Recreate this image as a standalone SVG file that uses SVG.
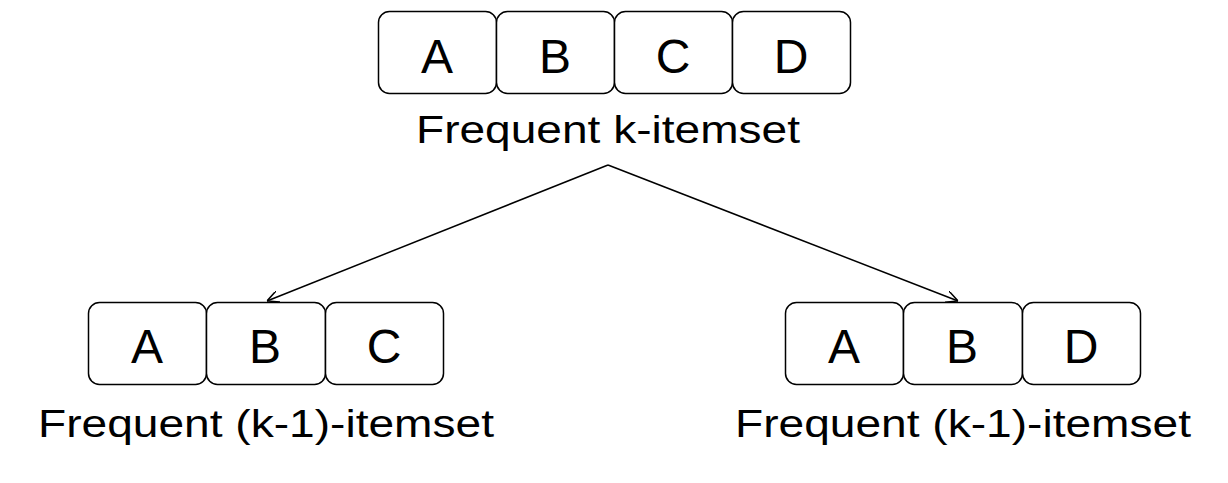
<svg xmlns="http://www.w3.org/2000/svg" width="1228" height="483" viewBox="0 0 1228 483">
<defs>
<style>
.box{fill:#fff;stroke:#000;stroke-width:1.5}
.lt{font-family:"Liberation Sans",Arial,sans-serif;font-size:48px;text-anchor:middle;fill:#000}
.lb{font-family:"Liberation Sans",Arial,sans-serif;font-size:38px;fill:#000}
.edge{stroke:#000;stroke-width:1.5;fill:none}
</style>
<marker id="arr" viewBox="0 0 12 12" refX="12" refY="6" markerWidth="12" markerHeight="12" markerUnits="userSpaceOnUse" orient="auto">
<path d="M0,0 L12,6 L0,12" fill="none" stroke="#000" stroke-width="1.5"/>
</marker>
</defs>
<rect width="1228" height="483" fill="#fff"/>
<g id="top">
<rect class="box" x="378.5" y="11.5" width="118" height="82" rx="11"/>
<rect class="box" x="496.5" y="11.5" width="118" height="82" rx="11"/>
<rect class="box" x="614.5" y="11.5" width="118" height="82" rx="11"/>
<rect class="box" x="732.5" y="11.5" width="118" height="82" rx="11"/>
<text class="lt" x="437" y="73">A</text>
<text class="lt" x="555" y="73">B</text>
<text class="lt" x="673" y="73">C</text>
<text class="lt" x="791" y="73">D</text>
<text class="lb" x="416" y="143" textLength="384" lengthAdjust="spacingAndGlyphs">Frequent k-itemset</text>
</g>
<g id="left">
<rect class="box" x="88.5" y="302.5" width="118" height="82" rx="11"/>
<rect class="box" x="206.5" y="302.5" width="119" height="82" rx="11"/>
<rect class="box" x="325.5" y="302.5" width="118" height="82" rx="11"/>
<text class="lt" x="147" y="363">A</text>
<text class="lt" x="265" y="363">B</text>
<text class="lt" x="384" y="363">C</text>
<text class="lb" x="38" y="437" textLength="456" lengthAdjust="spacingAndGlyphs">Frequent (k-1)-itemset</text>
</g>
<g id="right">
<rect class="box" x="785.5" y="302.5" width="118" height="82" rx="11"/>
<rect class="box" x="903.5" y="302.5" width="119" height="82" rx="11"/>
<rect class="box" x="1022.5" y="302.5" width="118" height="82" rx="11"/>
<text class="lt" x="844" y="363">A</text>
<text class="lt" x="962" y="363">B</text>
<text class="lt" x="1081" y="363">D</text>
<text class="lb" x="735" y="437" textLength="456" lengthAdjust="spacingAndGlyphs">Frequent (k-1)-itemset</text>
</g>
<g id="connectors">
<line class="edge" x1="608" y1="165" x2="267" y2="301" marker-end="url(#arr)"/>
<line class="edge" x1="608" y1="165" x2="958" y2="301" marker-end="url(#arr)"/>
</g>
</svg>
